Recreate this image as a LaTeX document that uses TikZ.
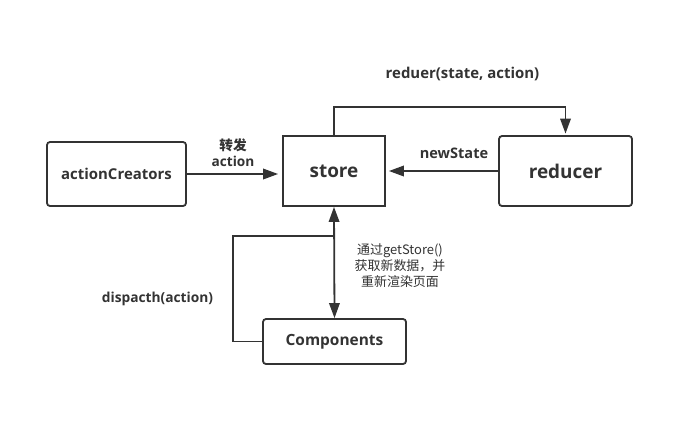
\documentclass[tikz,border=0pt]{standalone}
\usepackage{fontspec}
\setmainfont{Open Sans}
\newfontfamily\cjk{Noto Sans CJK SC}
\usetikzlibrary{arrows.meta,calc}
\definecolor{ln}{HTML}{333333}
\begin{document}
\begin{tikzpicture}[x=1bp,y=-1bp,
  box/.style={draw=ln,line width=1.8bp,inner sep=0pt,text=ln,font=\bfseries\fontsize{15}{17}\selectfont},
  rbox/.style={box,rounded corners=3bp},
  big/.style={font=\bfseries\fontsize{19}{21}\selectfont},
  lbl/.style={text=ln,font=\bfseries\fontsize{14}{16}\selectfont,inner sep=0pt},
  conn/.style={draw=ln,line width=1.8bp},
  arr/.style={conn,-{Triangle[length=15bp,width=10.5bp]}},
  darr/.style={conn,{Triangle[length=15bp,width=10.5bp]}-{Triangle[length=15bp,width=10.5bp]}}
]
\useasboundingbox (0,0) rectangle (695,426);
\fill[white] (0,0) rectangle (695,426);
\node[rbox,minimum width=139bp,minimum height=64bp] (ac) at (116.5,174) {actionCreators};
\node[box,big,minimum width=102bp,minimum height=70bp] (store) at (334,171) {store};
\node[rbox,big,minimum width=133bp,minimum height=70bp] (red) at (565.5,171) {reducer};
\node[rbox,font=\bfseries\fontsize{15.5}{17}\selectfont,minimum width=143bp,minimum height=45bp] (comp) at (334.5,341.5) {Components};
% connectors
\draw[arr,shorten >=4bp] (ac.east |- 0,174) -- (store.west |- 0,174);
\coordinate (top) at (334,107);
\draw[arr,shorten >=1.5bp] (store.north) -- (top) -| (red.north);
\draw[arr,shorten >=3bp] (red.west) -- (store.east);
\draw[darr] (store.south) -- (comp.north);
\coordinate (j) at (334,236);
\coordinate (lb) at (233,341.5);
\draw[conn] (comp.west) -- (lb) |- (j);
% labels
\node[lbl,font=\bfseries\fontsize{15}{17}\selectfont] (l1) at (462.5,74) {reduer(state, action)};
\node[lbl,align=center,font=\bfseries\fontsize{13.7}{16}\selectfont] (l2) at (233,152.5) {{\cjk 转发}\\action};
\node[lbl,font=\bfseries\fontsize{14.6}{16}\selectfont] (l3) at (454,153) {newState};
\node[lbl,font=\bfseries\fontsize{13.8}{16}\selectfont] (l4) at (157.5,298.5) {dispacth(action)};
\node[lbl,align=center,font=\cjk\fontsize{13}{16}\selectfont] (l5) at (400,266) {通过getStore()\\获取新数据，并\\重新渲染页面};
\end{tikzpicture}
\end{document}
